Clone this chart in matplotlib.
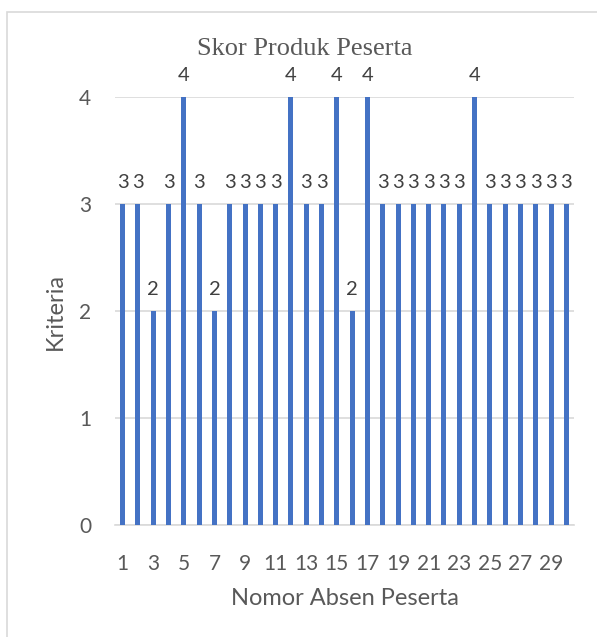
import numpy as np
import matplotlib.pyplot as plt
from matplotlib.patches import Rectangle

# Skor produk tiap peserta (nomor absen 1..30)
absen = list(range(1, 31))
skor = [3, 3, 2, 3, 4, 3, 2, 3, 3, 3, 3, 4, 3, 3, 4, 2, 4, 3, 3, 3,
        3, 3, 3, 4, 3, 3, 3, 3, 3, 3]
yticks = [0, 1, 2, 3, 4]
xtick_labels = [str(i) for i in range(1, 30, 2)]

W, H = 597, 637
fig = plt.figure(figsize=(W / 100, H / 100), dpi=100)
ax = fig.add_axes([115 / W, 1 - 525 / H, (574 - 115) / W, (525 - 97) / H])

blue = "#4472C4"
grey = "#595959"
font = ["Lato", "DejaVu Sans"]

x = np.arange(len(absen))
ax.bar(x, skor, width=0.33, color=blue, zorder=3)
for xi, v in zip(x, skor):
    ax.text(xi, v + 0.12, str(v), ha="center", va="bottom", fontsize=14.5,
            color="#404040", family=font, clip_on=False)

ax.set_xlim(-0.5, len(absen) - 0.5)
ax.set_ylim(0, 4)
ax.set_yticks(yticks)
ax.set_yticklabels([str(t) for t in yticks], fontsize=15, color=grey, family=font)
ax.set_xticks(x[::2])
ax.set_xticklabels(xtick_labels, fontsize=15, color=grey, family=font)
ax.tick_params(length=0)
ax.tick_params(axis="x", pad=21)
ax.tick_params(axis="y", pad=17)
ax.grid(axis="y", color="#D9D9D9", linewidth=1.2, zorder=0)
for s in ["top", "right", "left"]:
    ax.spines[s].set_visible(False)
ax.spines["bottom"].set_color("#D9D9D9")
ax.spines["bottom"].set_linewidth(1.2)

ax.set_xlabel("Nomor Absen Peserta", fontsize=17, color=grey, family=font, labelpad=10)
ax.set_ylabel("Kriteria", fontsize=17, color=grey, family=font, labelpad=10)

fig.text(305 / W, 1 - 49 / H, "Skor Produk Peserta", ha="center", va="center",
         fontsize=19, color=grey, family="Liberation Serif")

# chart border
fig.patches.append(Rectangle((7 / W, -0.01), 1.0, 1 - 12 / H + 0.01,
                             transform=fig.transFigure, fill=False,
                             edgecolor="#D9D9D9", linewidth=1.2))

plt.savefig("out.png", dpi=100)
